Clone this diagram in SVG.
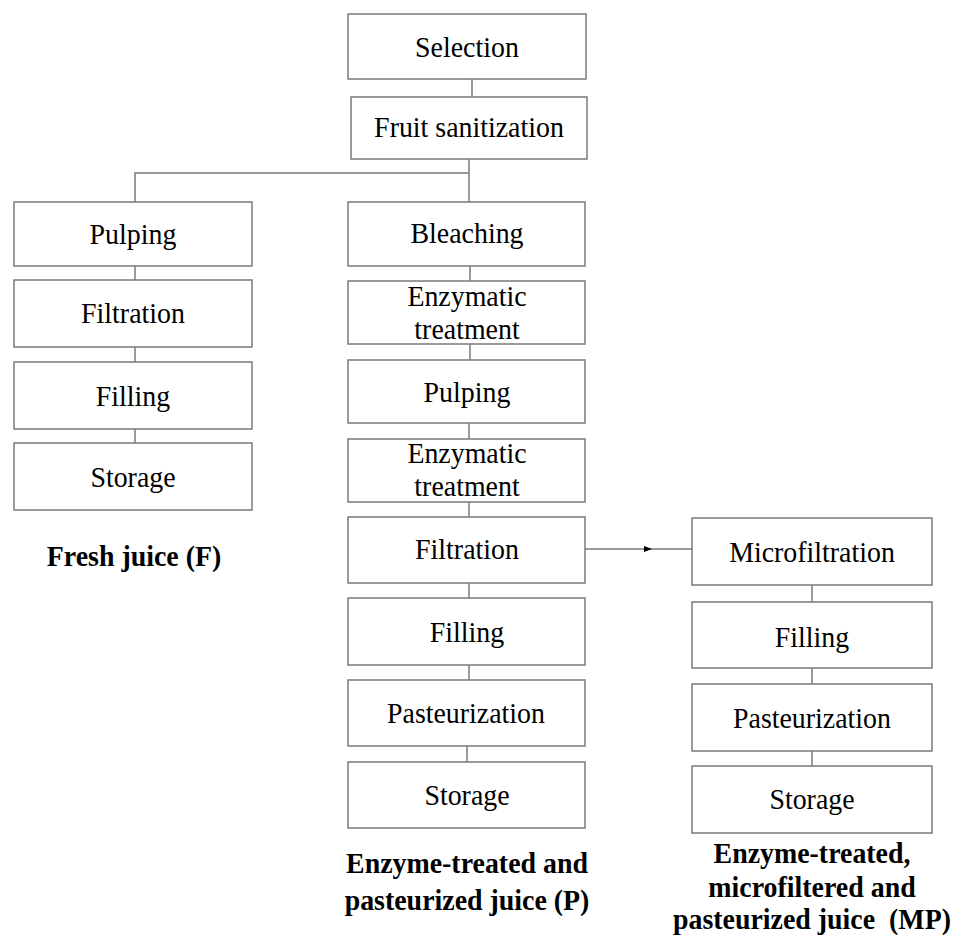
<svg xmlns="http://www.w3.org/2000/svg" width="955" height="936" viewBox="0 0 955 936">
<style>
.box{fill:#ffffff;stroke:#7a7a7a;stroke-width:1.5}
.t{font-family:"Liberation Serif","Times New Roman",serif;font-size:30px;fill:#000;text-anchor:middle}
.lbl{font-family:"Liberation Serif","Times New Roman",serif;font-size:30px;font-weight:bold;fill:#000;text-anchor:middle}
.con{fill:none;stroke:#7a7a7a;stroke-width:1.5}
</style>
<defs>
<marker id="ah" viewBox="0 0 8 6" refX="8" refY="3" markerWidth="8" markerHeight="6" markerUnits="userSpaceOnUse" orient="auto">
<path d="M0,0 L8,3 L0,6 Z" fill="#000"/>
</marker>
</defs>
<rect width="955" height="936" fill="#ffffff"/>
<g id="connectors">
<path class="con" d="M472,79 V97"/>
<path class="con" d="M469,159 V202"/>
<path class="con" d="M469,173 H135 V202"/>
<path class="con" d="M135,266 V280"/>
<path class="con" d="M135,347 V362"/>
<path class="con" d="M135,429 V443"/>
<path class="con" d="M470,266 V281"/>
<path class="con" d="M470,344 V360"/>
<path class="con" d="M469,423 V439"/>
<path class="con" d="M469,502 V517"/>
<path class="con" d="M469,583 V598"/>
<path class="con" d="M469,665 V680"/>
<path class="con" d="M467,746 V762"/>
<path class="con" d="M585,549 L652,549 L692,549" marker-mid="url(#ah)"/>
<path class="con" d="M812,585 V602"/>
<path class="con" d="M812,668 V684"/>
<path class="con" d="M812,751 V766"/>
</g>
<g id="selection"><rect class="box" x="348" y="14" width="238" height="65"/><text class="t" transform="translate(467 0) scale(0.93 1)" y="57">Selection</text></g>
<g id="fruit-sanitization"><rect class="box" x="351" y="97" width="236" height="62"/><text class="t" transform="translate(469 0) scale(0.93 1)" y="137">Fruit sanitization</text></g>
<g id="f-pulping"><rect class="box" x="14" y="202" width="238" height="64"/><text class="t" transform="translate(133 0) scale(0.93 1)" y="244">Pulping</text></g>
<g id="f-filtration"><rect class="box" x="14" y="280" width="238" height="67"/><text class="t" transform="translate(133 0) scale(0.93 1)" y="323">Filtration</text></g>
<g id="f-filling"><rect class="box" x="14" y="362" width="238" height="67"/><text class="t" transform="translate(133 0) scale(0.93 1)" y="406">Filling</text></g>
<g id="f-storage"><rect class="box" x="14" y="443" width="238" height="67"/><text class="t" transform="translate(133 0) scale(0.93 1)" y="487">Storage</text></g>
<g id="label-f"><text class="lbl" transform="translate(134 0) scale(0.93 1)" y="566">Fresh juice (F)</text></g>
<g id="p-bleaching"><rect class="box" x="348" y="202" width="237" height="64"/><text class="t" transform="translate(467 0) scale(0.93 1)" y="243">Bleaching</text></g>
<g id="p-enzymatic1"><rect class="box" x="348" y="281" width="237" height="63"/><text class="t" transform="translate(467 0) scale(0.93 1)" y="306">Enzymatic</text><text class="t" transform="translate(467 0) scale(0.93 1)" y="339">treatment</text></g>
<g id="p-pulping"><rect class="box" x="348" y="360" width="237" height="63"/><text class="t" transform="translate(467 0) scale(0.93 1)" y="402">Pulping</text></g>
<g id="p-enzymatic2"><rect class="box" x="348" y="439" width="237" height="63"/><text class="t" transform="translate(467 0) scale(0.93 1)" y="463">Enzymatic</text><text class="t" transform="translate(467 0) scale(0.93 1)" y="496">treatment</text></g>
<g id="p-filtration"><rect class="box" x="348" y="517" width="237" height="66"/><text class="t" transform="translate(467 0) scale(0.93 1)" y="559">Filtration</text></g>
<g id="p-filling"><rect class="box" x="348" y="598" width="237" height="67"/><text class="t" transform="translate(467 0) scale(0.93 1)" y="642">Filling</text></g>
<g id="p-pasteurization"><rect class="box" x="348" y="680" width="237" height="66"/><text class="t" transform="translate(466 0) scale(0.93 1)" y="723">Pasteurization</text></g>
<g id="p-storage"><rect class="box" x="348" y="762" width="237" height="66"/><text class="t" transform="translate(467 0) scale(0.93 1)" y="805">Storage</text></g>
<g id="label-p"><text class="lbl" transform="translate(467 0) scale(0.93 1)" y="873">Enzyme-treated and</text><text class="lbl" transform="translate(467 0) scale(0.93 1)" y="910">pasteurized juice (P)</text></g>
<g id="mp-microfiltration"><rect class="box" x="692" y="518" width="240" height="67"/><text class="t" transform="translate(812 0) scale(0.93 1)" y="562">Microfiltration</text></g>
<g id="mp-filling"><rect class="box" x="692" y="602" width="240" height="66"/><text class="t" transform="translate(812 0) scale(0.93 1)" y="647">Filling</text></g>
<g id="mp-pasteurization"><rect class="box" x="692" y="684" width="240" height="67"/><text class="t" transform="translate(812 0) scale(0.93 1)" y="728">Pasteurization</text></g>
<g id="mp-storage"><rect class="box" x="692" y="766" width="240" height="67"/><text class="t" transform="translate(812 0) scale(0.93 1)" y="809">Storage</text></g>
<g id="label-mp"><text class="lbl" transform="translate(812 0) scale(0.93 1)" y="863">Enzyme-treated,</text><text class="lbl" transform="translate(812 0) scale(0.93 1)" y="897">microfiltered and</text><text class="lbl" transform="translate(812 0) scale(0.93 1)" y="929">pasteurized juice&#160; (MP)</text></g>
</svg>
